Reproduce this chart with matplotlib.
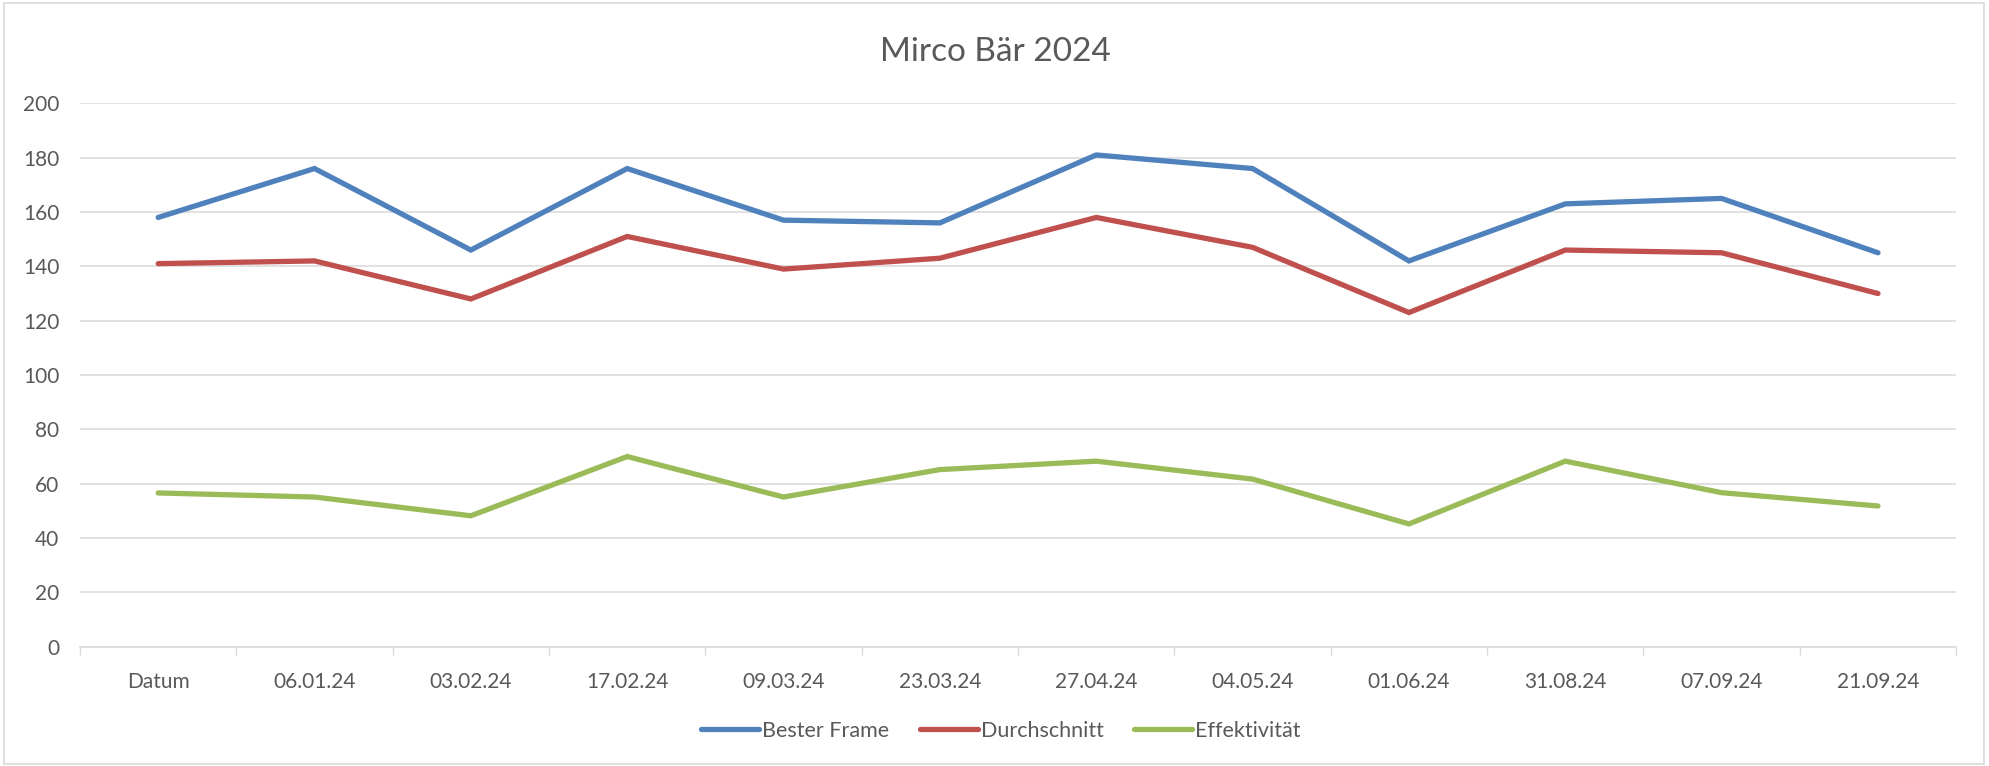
"""Mirco Bär 2024 - Excel-style line chart."""

import matplotlib
matplotlib.use("Agg")
import matplotlib.pyplot as plt
from matplotlib.patches import Rectangle

# data
dates = [
    "Datum", "06.01.24", "03.02.24", "17.02.24", "09.03.24", "23.03.24",
    "27.04.24", "04.05.24", "01.06.24", "31.08.24", "07.09.24", "21.09.24",
]
bester_frame = [158, 176, 146, 176, 157, 156, 181, 176, 142, 163, 165, 145]
durchschnitt = [141, 142, 128, 151, 139, 143, 158, 147, 123, 146, 145, 130]
effektivitaet = [56.6, 55.1, 48.2, 70.0, 55.1, 65.2, 68.3, 61.7, 45.2, 68.3, 56.7, 51.8]
y_ticks = [0, 20, 40, 60, 80, 100, 120, 140, 160, 180, 200]

series = [
    ("Bester Frame", bester_frame, "#4F81BD"),
    ("Durchschnitt", durchschnitt, "#C0504D"),
    ("Effektivität", effektivitaet, "#9BBB59"),
]

text_color = "#595959"
grid_color = "#D9D9D9"

plt.rcParams["font.family"] = ["Lato", "DejaVu Sans"]

fig = plt.figure(figsize=(19.9, 7.66), dpi=100)
ax = fig.add_axes([0.0402, 0.1557, 0.9428, 0.7094])

x = list(range(len(dates)))
for label, values, color in series:
    ax.plot(x, values, label=label, color=color, linewidth=3.8,
            solid_capstyle="round", solid_joinstyle="miter")

# y axis
ax.set_ylim(0, 200)
ax.set_yticks(y_ticks)
ax.tick_params(axis="y", length=0, pad=15, labelsize=15, labelcolor=text_color)
ax.grid(axis="y", color=grid_color, linewidth=1.1)
ax.set_axisbelow(True)

# category axis: tick marks between categories, labels centered
ax.set_xlim(-0.5, len(dates) - 0.5)
ax.set_xticks([i - 0.5 for i in range(len(dates) + 1)])
ax.set_xticklabels([])
ax.set_xticks(x, minor=True)
ax.set_xticklabels(dates, minor=True)
ax.tick_params(axis="x", which="major", length=6, width=1, color=grid_color)
ax.tick_params(axis="x", which="minor", length=0, pad=18, labelsize=15,
               labelcolor=text_color)

for side in ["top", "right", "left"]:
    ax.spines[side].set_visible(False)
ax.spines["bottom"].set_color(grid_color)
ax.spines["bottom"].set_linewidth(1.1)

fig.suptitle("Mirco Bär 2024", x=0.5, y=0.952, fontsize=24, color=text_color)

fig.legend(
    loc="center", bbox_to_anchor=(0.503, 0.046), ncol=3, frameon=False,
    fontsize=15.5, labelcolor=text_color, handlelength=2.7,
    handletextpad=0.15, columnspacing=1.4,
)

# chart area border
fig.patches.append(Rectangle((0.002, 0.003), 0.995, 0.993, transform=fig.transFigure,
                             fill=False, edgecolor=grid_color, linewidth=1.2))

fig.savefig("out.png", dpi=100)
